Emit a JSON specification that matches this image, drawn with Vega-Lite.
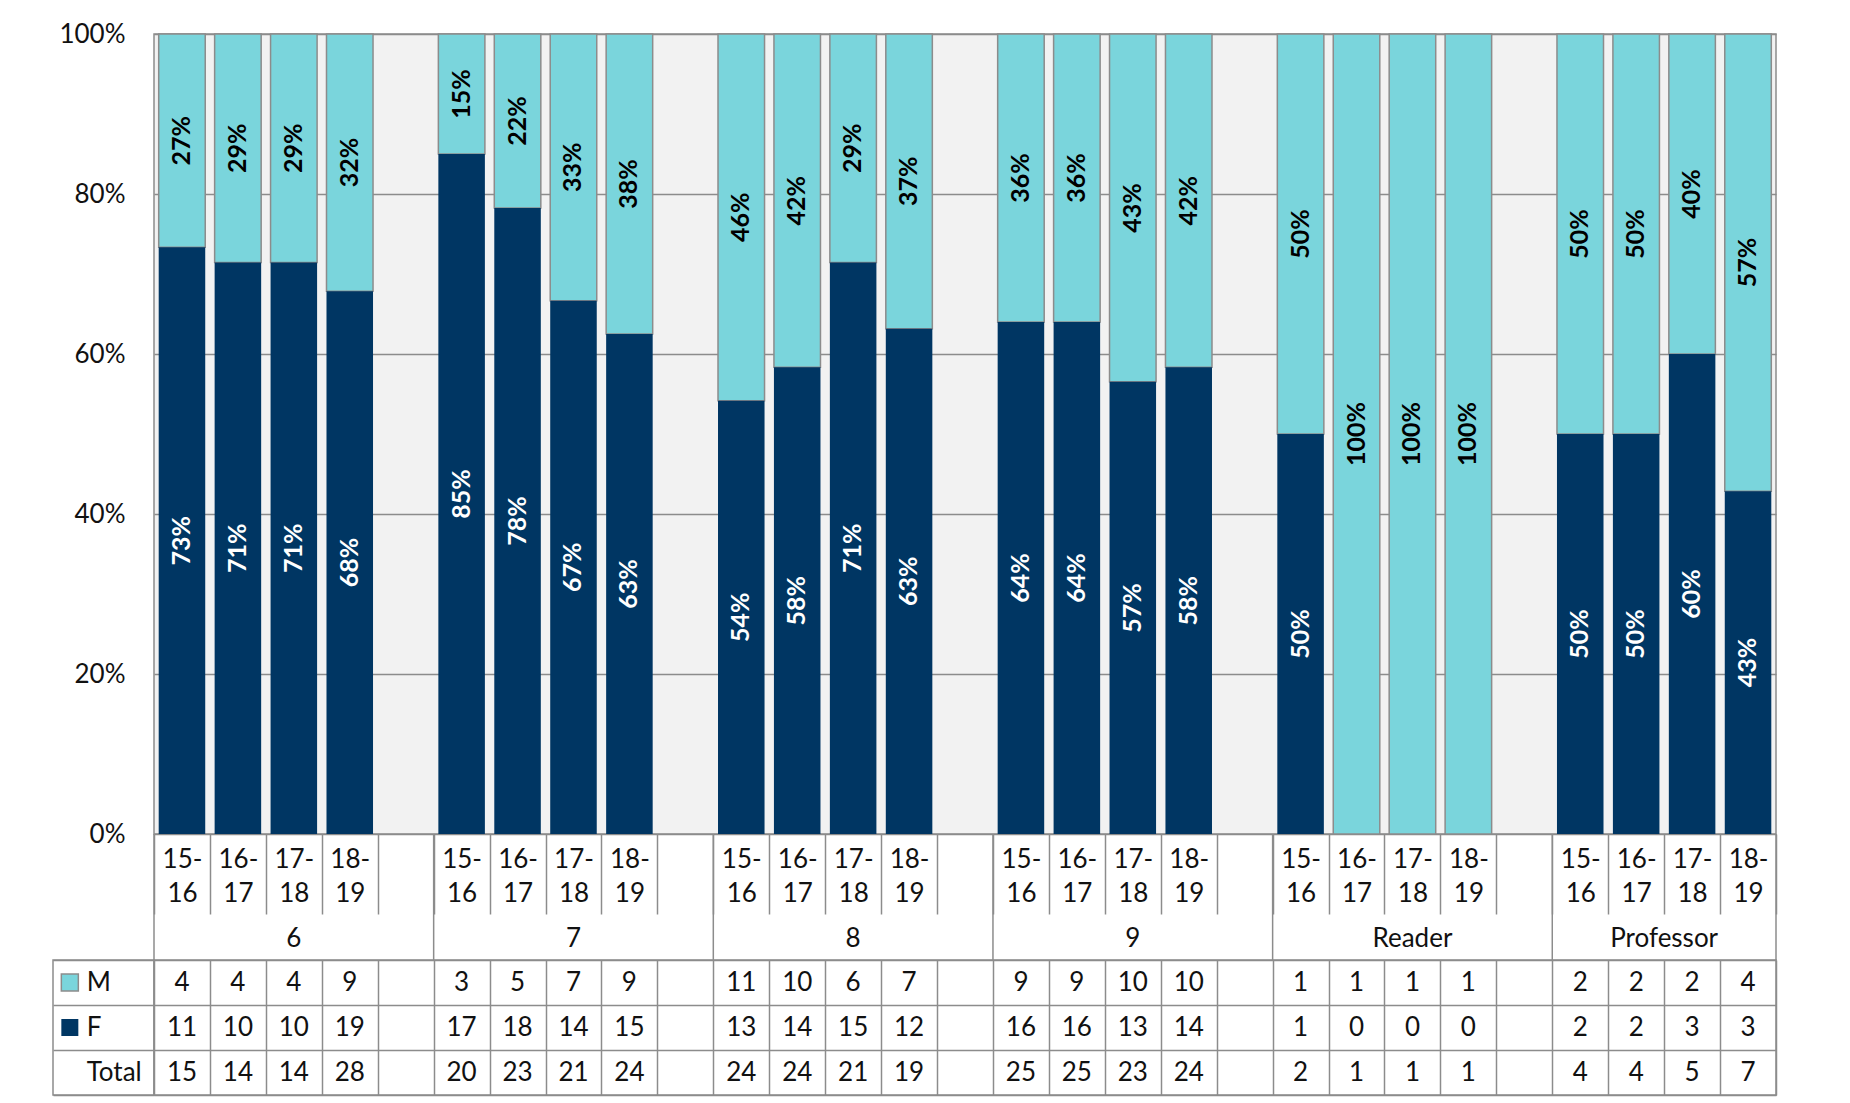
{
  "$schema": "https://vega.github.io/schema/vega-lite/v6.json",
  "background": "white",
  "padding": {"left": 52, "top": 20, "right": 5, "bottom": 5},
  "bounds": "flush",
  "spacing": 0,
  "columns": 2,
  "config": {
    "font": "Lato",
    "view": {"stroke": null},
    "axis": {"labelFont": "Lato", "labelFontSize": 26, "labelColor": "#111111"},
    "text": {"font": "Lato", "fontSize": 26, "color": "#111111"}
  },
  "datasets": {
    "cells": [
      {"g": "6", "yr": "15-16", "slot": "6|15-16", "sex": "M", "n": 4, "lab": "27%"},
      {"g": "6", "yr": "15-16", "slot": "6|15-16", "sex": "F", "n": 11, "lab": "73%"},
      {"g": "6", "yr": "15-16", "slot": "6|15-16", "sex": "Total", "n": 15, "lab": ""},
      {"g": "6", "yr": "16-17", "slot": "6|16-17", "sex": "M", "n": 4, "lab": "29%"},
      {"g": "6", "yr": "16-17", "slot": "6|16-17", "sex": "F", "n": 10, "lab": "71%"},
      {"g": "6", "yr": "16-17", "slot": "6|16-17", "sex": "Total", "n": 14, "lab": ""},
      {"g": "6", "yr": "17-18", "slot": "6|17-18", "sex": "M", "n": 4, "lab": "29%"},
      {"g": "6", "yr": "17-18", "slot": "6|17-18", "sex": "F", "n": 10, "lab": "71%"},
      {"g": "6", "yr": "17-18", "slot": "6|17-18", "sex": "Total", "n": 14, "lab": ""},
      {"g": "6", "yr": "18-19", "slot": "6|18-19", "sex": "M", "n": 9, "lab": "32%"},
      {"g": "6", "yr": "18-19", "slot": "6|18-19", "sex": "F", "n": 19, "lab": "68%"},
      {"g": "6", "yr": "18-19", "slot": "6|18-19", "sex": "Total", "n": 28, "lab": ""},
      {"g": "7", "yr": "15-16", "slot": "7|15-16", "sex": "M", "n": 3, "lab": "15%"},
      {"g": "7", "yr": "15-16", "slot": "7|15-16", "sex": "F", "n": 17, "lab": "85%"},
      {"g": "7", "yr": "15-16", "slot": "7|15-16", "sex": "Total", "n": 20, "lab": ""},
      {"g": "7", "yr": "16-17", "slot": "7|16-17", "sex": "M", "n": 5, "lab": "22%"},
      {"g": "7", "yr": "16-17", "slot": "7|16-17", "sex": "F", "n": 18, "lab": "78%"},
      {"g": "7", "yr": "16-17", "slot": "7|16-17", "sex": "Total", "n": 23, "lab": ""},
      {"g": "7", "yr": "17-18", "slot": "7|17-18", "sex": "M", "n": 7, "lab": "33%"},
      {"g": "7", "yr": "17-18", "slot": "7|17-18", "sex": "F", "n": 14, "lab": "67%"},
      {"g": "7", "yr": "17-18", "slot": "7|17-18", "sex": "Total", "n": 21, "lab": ""},
      {"g": "7", "yr": "18-19", "slot": "7|18-19", "sex": "M", "n": 9, "lab": "38%"},
      {"g": "7", "yr": "18-19", "slot": "7|18-19", "sex": "F", "n": 15, "lab": "63%"},
      {"g": "7", "yr": "18-19", "slot": "7|18-19", "sex": "Total", "n": 24, "lab": ""},
      {"g": "8", "yr": "15-16", "slot": "8|15-16", "sex": "M", "n": 11, "lab": "46%"},
      {"g": "8", "yr": "15-16", "slot": "8|15-16", "sex": "F", "n": 13, "lab": "54%"},
      {"g": "8", "yr": "15-16", "slot": "8|15-16", "sex": "Total", "n": 24, "lab": ""},
      {"g": "8", "yr": "16-17", "slot": "8|16-17", "sex": "M", "n": 10, "lab": "42%"},
      {"g": "8", "yr": "16-17", "slot": "8|16-17", "sex": "F", "n": 14, "lab": "58%"},
      {"g": "8", "yr": "16-17", "slot": "8|16-17", "sex": "Total", "n": 24, "lab": ""},
      {"g": "8", "yr": "17-18", "slot": "8|17-18", "sex": "M", "n": 6, "lab": "29%"},
      {"g": "8", "yr": "17-18", "slot": "8|17-18", "sex": "F", "n": 15, "lab": "71%"},
      {"g": "8", "yr": "17-18", "slot": "8|17-18", "sex": "Total", "n": 21, "lab": ""},
      {"g": "8", "yr": "18-19", "slot": "8|18-19", "sex": "M", "n": 7, "lab": "37%"},
      {"g": "8", "yr": "18-19", "slot": "8|18-19", "sex": "F", "n": 12, "lab": "63%"},
      {"g": "8", "yr": "18-19", "slot": "8|18-19", "sex": "Total", "n": 19, "lab": ""},
      {"g": "9", "yr": "15-16", "slot": "9|15-16", "sex": "M", "n": 9, "lab": "36%"},
      {"g": "9", "yr": "15-16", "slot": "9|15-16", "sex": "F", "n": 16, "lab": "64%"},
      {"g": "9", "yr": "15-16", "slot": "9|15-16", "sex": "Total", "n": 25, "lab": ""},
      {"g": "9", "yr": "16-17", "slot": "9|16-17", "sex": "M", "n": 9, "lab": "36%"},
      {"g": "9", "yr": "16-17", "slot": "9|16-17", "sex": "F", "n": 16, "lab": "64%"},
      {"g": "9", "yr": "16-17", "slot": "9|16-17", "sex": "Total", "n": 25, "lab": ""},
      {"g": "9", "yr": "17-18", "slot": "9|17-18", "sex": "M", "n": 10, "lab": "43%"},
      {"g": "9", "yr": "17-18", "slot": "9|17-18", "sex": "F", "n": 13, "lab": "57%"},
      {"g": "9", "yr": "17-18", "slot": "9|17-18", "sex": "Total", "n": 23, "lab": ""},
      {"g": "9", "yr": "18-19", "slot": "9|18-19", "sex": "M", "n": 10, "lab": "42%"},
      {"g": "9", "yr": "18-19", "slot": "9|18-19", "sex": "F", "n": 14, "lab": "58%"},
      {"g": "9", "yr": "18-19", "slot": "9|18-19", "sex": "Total", "n": 24, "lab": ""},
      {"g": "Reader", "yr": "15-16", "slot": "Reader|15-16", "sex": "M", "n": 1, "lab": "50%"},
      {"g": "Reader", "yr": "15-16", "slot": "Reader|15-16", "sex": "F", "n": 1, "lab": "50%"},
      {"g": "Reader", "yr": "15-16", "slot": "Reader|15-16", "sex": "Total", "n": 2, "lab": ""},
      {"g": "Reader", "yr": "16-17", "slot": "Reader|16-17", "sex": "M", "n": 1, "lab": "100%"},
      {"g": "Reader", "yr": "16-17", "slot": "Reader|16-17", "sex": "F", "n": 0, "lab": ""},
      {"g": "Reader", "yr": "16-17", "slot": "Reader|16-17", "sex": "Total", "n": 1, "lab": ""},
      {"g": "Reader", "yr": "17-18", "slot": "Reader|17-18", "sex": "M", "n": 1, "lab": "100%"},
      {"g": "Reader", "yr": "17-18", "slot": "Reader|17-18", "sex": "F", "n": 0, "lab": ""},
      {"g": "Reader", "yr": "17-18", "slot": "Reader|17-18", "sex": "Total", "n": 1, "lab": ""},
      {"g": "Reader", "yr": "18-19", "slot": "Reader|18-19", "sex": "M", "n": 1, "lab": "100%"},
      {"g": "Reader", "yr": "18-19", "slot": "Reader|18-19", "sex": "F", "n": 0, "lab": ""},
      {"g": "Reader", "yr": "18-19", "slot": "Reader|18-19", "sex": "Total", "n": 1, "lab": ""},
      {"g": "Professor", "yr": "15-16", "slot": "Professor|15-16", "sex": "M", "n": 2, "lab": "50%"},
      {"g": "Professor", "yr": "15-16", "slot": "Professor|15-16", "sex": "F", "n": 2, "lab": "50%"},
      {"g": "Professor", "yr": "15-16", "slot": "Professor|15-16", "sex": "Total", "n": 4, "lab": ""},
      {"g": "Professor", "yr": "16-17", "slot": "Professor|16-17", "sex": "M", "n": 2, "lab": "50%"},
      {"g": "Professor", "yr": "16-17", "slot": "Professor|16-17", "sex": "F", "n": 2, "lab": "50%"},
      {"g": "Professor", "yr": "16-17", "slot": "Professor|16-17", "sex": "Total", "n": 4, "lab": ""},
      {"g": "Professor", "yr": "17-18", "slot": "Professor|17-18", "sex": "M", "n": 2, "lab": "40%"},
      {"g": "Professor", "yr": "17-18", "slot": "Professor|17-18", "sex": "F", "n": 3, "lab": "60%"},
      {"g": "Professor", "yr": "17-18", "slot": "Professor|17-18", "sex": "Total", "n": 5, "lab": ""},
      {"g": "Professor", "yr": "18-19", "slot": "Professor|18-19", "sex": "M", "n": 4, "lab": "57%"},
      {"g": "Professor", "yr": "18-19", "slot": "Professor|18-19", "sex": "F", "n": 3, "lab": "43%"},
      {"g": "Professor", "yr": "18-19", "slot": "Professor|18-19", "sex": "Total", "n": 7, "lab": ""}
    ]
  },
  "concat": [
    {
      "width": 101, "height": 800,
      "data": {"values": [{}]},
      "mark": {"type": "text", "text": ""}
    },
    {
      "width": 1622, "height": 800,
      "view": {"fill": "#F2F2F2", "stroke": "#8C8C8C", "strokeWidth": 1.5},
      "data": {"name": "cells"},
      "transform": [{"filter": "datum.sex != 'Total'"}],
      "encoding": {
        "x": {
          "field": "slot", "type": "nominal",
          "scale": {"type": "band", "paddingInner": 0, "paddingOuter": 0,
            "domain": ["6|15-16","6|16-17","6|17-18","6|18-19","6|","7|15-16","7|16-17","7|17-18","7|18-19","7|","8|15-16","8|16-17","8|17-18","8|18-19","8|","9|15-16","9|16-17","9|17-18","9|18-19","9|","Reader|15-16","Reader|16-17","Reader|17-18","Reader|18-19","Reader|","Professor|15-16","Professor|16-17","Professor|17-18","Professor|18-19"]},
          "axis": {
            "title": null, "domain": false, "ticks": true, "tickSize": 80, "tickBand": "extent",
            "tickColor": "#8C8C8C", "tickWidth": 1.5, "labelPadding": -68, "labelLineHeight": 34,
            "labelOverlap": false, "labelAngle": 0, "labelAlign": "center", "labelBaseline": "top",
            "labelExpr": "isString(datum.value) && length(split(datum.value, '|')[1]) > 0 ? [substring(split(datum.value, '|')[1], 0, 3), substring(split(datum.value, '|')[1], 3)] : ''"
          }
        }
      },
      "layer": [
        {
          "mark": {"type": "bar", "width": {"band": 0.832}, "strokeWidth": 1.5},
          "encoding": {
            "y": {
              "field": "n", "type": "quantitative", "stack": "normalize",
              "scale": {"domain": [0, 1], "nice": false},
              "axis": {"title": null, "values": [0, 0.2, 0.4, 0.6, 0.8, 1], "format": ".0%", "grid": true,
                "gridColor": "#8C8C8C", "gridWidth": 1.5, "ticks": false, "tickSize": 0, "domain": false, "labelPadding": 29}
            },
            "color": {"field": "sex", "type": "nominal", "scale": {"domain": ["F", "M"], "range": ["#003663", "#7AD5DC"]}, "legend": null},
            "order": {"field": "sex", "sort": "ascending"},
            "stroke": {"condition": {"test": "datum.sex == 'M'", "value": "#8C8C8C"}, "value": "transparent"}
          }
        },
        {
          "transform": [
            {"stack": "n", "groupby": ["slot"], "sort": [{"field": "sex", "order": "ascending"}], "offset": "normalize", "as": ["y0", "y1"]},
            {"fold": ["y0", "y1"], "as": ["k", "v"]},
            {"filter": "datum.n > 0"}
          ],
          "mark": {"type": "text", "angle": 270, "font": "Lato", "fontWeight": "bold", "fontSize": 25, "align": "center", "baseline": "middle"},
          "encoding": {
            "y": {"aggregate": "mean", "field": "v", "type": "quantitative", "scale": {"domain": [0, 1], "nice": false}, "axis": {"title": null}},
            "text": {"field": "lab"},
            "detail": {"field": "sex"},
            "color": {"condition": {"test": "datum.sex == 'F'", "value": "#FFFFFF"}, "value": "#000000"}
          }
        }
      ]
    },
    {
      "width": 101, "height": 126,
      "data": {"values": [{}]},
      "mark": {"type": "text", "text": ""}
    },
    {
      "width": 1622, "height": 126,
      "data": {"name": "cells"},
      "transform": [{"filter": "datum.sex == 'M'"}],
      "layer": [
        {
          "transform": [{"filter": "datum.yr == '15-16'"}],
          "mark": {"type": "rule", "color": "#8C8C8C", "strokeWidth": 1.5},
          "encoding": {
            "x": {"field": "slot", "type": "nominal", "bandPosition": 0, "axis": null,
              "scale": {"type": "band", "paddingInner": 0, "paddingOuter": 0,
                "domain": ["6|15-16","6|16-17","6|17-18","6|18-19","6|","7|15-16","7|16-17","7|17-18","7|18-19","7|","8|15-16","8|16-17","8|17-18","8|18-19","8|","9|15-16","9|16-17","9|17-18","9|18-19","9|","Reader|15-16","Reader|16-17","Reader|17-18","Reader|18-19","Reader|","Professor|15-16","Professor|16-17","Professor|17-18","Professor|18-19"]}}
          }
        },
        {
          "transform": [{"filter": "datum.slot == 'Professor|18-19'"}],
          "mark": {"type": "rule", "color": "#8C8C8C", "strokeWidth": 1.5},
          "encoding": {
            "x": {"field": "slot", "type": "nominal", "bandPosition": 1, "axis": null}
          }
        },
        {
          "transform": [{"filter": "datum.yr == '17-18' && datum.g != 'Professor'"}],
          "mark": {"type": "text", "font": "Lato", "fontSize": 26, "align": "center", "baseline": "middle"},
          "encoding": {
            "x": {"field": "slot", "type": "nominal", "bandPosition": 0.5, "axis": null},
            "y": {"datum": "grp", "type": "nominal", "scale": {"type": "band", "domain": ["a", "b", "grp"], "paddingInner": 0, "paddingOuter": 0}, "axis": null},
            "text": {"field": "g"}
          }
        },
        {
          "transform": [{"filter": "datum.yr == '17-18' && datum.g == 'Professor'"}],
          "mark": {"type": "text", "font": "Lato", "fontSize": 26, "align": "center", "baseline": "middle"},
          "encoding": {
            "x": {"field": "slot", "type": "nominal", "bandPosition": 0, "axis": null},
            "y": {"datum": "grp", "type": "nominal", "axis": null},
            "text": {"field": "g"}
          }
        }
      ]
    },
    {
      "width": 101, "height": 135,
      "view": {"stroke": "#8C8C8C", "strokeWidth": 1.5},
      "data": {"values": [{"row": "M"}, {"row": "F"}, {"row": "Total"}]},
      "encoding": {
        "y": {"field": "row", "type": "nominal",
          "scale": {"type": "band", "domain": ["M", "F", "Total"], "paddingInner": 0, "paddingOuter": 0},
          "axis": {"title": null, "labels": false, "ticks": false, "domain": false, "grid": true, "tickBand": "extent", "gridColor": "#8C8C8C", "gridWidth": 1.5}}
      },
      "layer": [
        {
          "transform": [{"filter": "datum.row != 'Total'"}],
          "mark": {"type": "square", "size": 289, "opacity": 1, "filled": true, "strokeWidth": 1.5},
          "encoding": {
            "x": {"datum": "sym", "type": "nominal", "axis": null,
              "scale": {"type": "band", "domain": ["sym", "name", "pad"], "paddingInner": 0, "paddingOuter": 0}},
            "fill": {"field": "row", "type": "nominal", "scale": {"domain": ["F", "M"], "range": ["#003663", "#7AD5DC"]}, "legend": null},
            "stroke": {"condition": {"test": "datum.row == 'M'", "value": "#8C8C8C"}, "value": "transparent"}
          }
        },
        {
          "mark": {"type": "text", "align": "left", "baseline": "middle", "font": "Lato", "fontSize": 26},
          "encoding": {
            "x": {"datum": "name", "type": "nominal", "bandPosition": 0, "axis": null},
            "text": {"field": "row"}
          }
        }
      ]
    },
    {
      "width": 1622, "height": 135,
      "view": {"stroke": "#8C8C8C", "strokeWidth": 1.5},
      "data": {"name": "cells"},
      "mark": {"type": "text", "font": "Lato", "fontSize": 26, "align": "center", "baseline": "middle"},
      "encoding": {
        "x": {"field": "slot", "type": "nominal",
          "scale": {"type": "band", "paddingInner": 0, "paddingOuter": 0,
            "domain": ["6|15-16","6|16-17","6|17-18","6|18-19","6|","7|15-16","7|16-17","7|17-18","7|18-19","7|","8|15-16","8|16-17","8|17-18","8|18-19","8|","9|15-16","9|16-17","9|17-18","9|18-19","9|","Reader|15-16","Reader|16-17","Reader|17-18","Reader|18-19","Reader|","Professor|15-16","Professor|16-17","Professor|17-18","Professor|18-19"]},
          "axis": {"orient": "top", "title": null, "labels": false, "ticks": false, "domain": false, "grid": true, "tickBand": "extent", "gridColor": "#8C8C8C", "gridWidth": 1.5}},
        "y": {"field": "sex", "type": "nominal",
          "scale": {"type": "band", "domain": ["M", "F", "Total"], "paddingInner": 0, "paddingOuter": 0},
          "axis": {"title": null, "labels": false, "ticks": false, "domain": false, "grid": true, "tickBand": "extent", "gridColor": "#8C8C8C", "gridWidth": 1.5}},
        "text": {"field": "n", "type": "quantitative"}
      }
    }
  ]
}
